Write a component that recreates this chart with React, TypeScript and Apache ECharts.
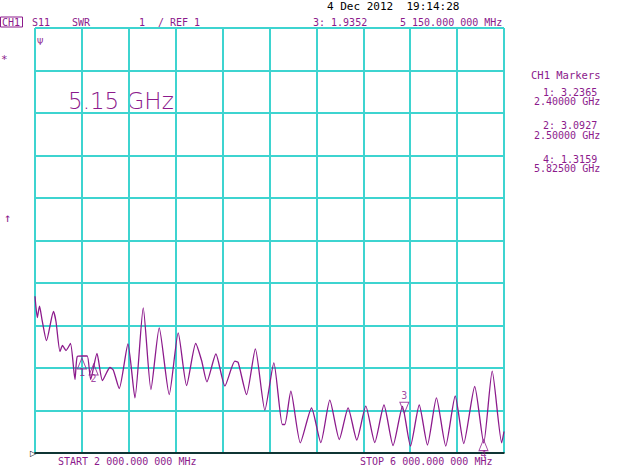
import React, { useEffect, useRef } from "react";
import * as echarts from "echarts";

// Trace: frequency (GHz) and SWR
const freqGHz = [
  2.0, 2.0196, 2.0384, 2.0597, 2.098, 2.1577, 2.179, 2.2131, 2.2344, 2.2642,
  2.3026, 2.3409, 2.3605, 2.4049, 2.4458, 2.4747, 2.5284, 2.5753, 2.6392, 2.6674,
  2.7185, 2.7927, 2.8523, 2.9231, 2.9887, 3.0594, 3.1447, 3.2214, 3.293, 3.3705,
  3.4208, 3.466, 3.5427, 3.6194, 3.7047, 3.7328, 3.8044, 3.8794, 3.9604, 4.0371,
  4.1095, 4.1308, 4.182, 4.2629, 4.3584, 4.4377, 4.5144, 4.5953, 4.6704, 4.7445,
  4.8212, 4.8979, 4.9763, 5.0539, 5.134, 5.2022, 5.2772, 5.3471, 5.4238, 5.5031,
  5.584, 5.6565, 5.7502, 5.8269, 5.8994, 5.9804, 6.0,
];
const swrValues = [
  4.689, 4.188, 4.454, 4.141, 3.647, 4.329, 4.094, 3.388, 3.529, 3.412,
  3.577, 2.729, 3.271, 3.282, 3.282, 2.729, 3.341, 2.706, 3.012, 2.953,
  2.518, 3.565, 2.299, 4.416, 2.494, 3.946, 2.376, 3.828, 2.588, 3.576,
  3.176, 2.675, 3.329, 2.576, 3.16, 3.129, 2.376, 3.452, 2.007, 3.122,
  1.671, 1.671, 2.454, 1.24, 2.059, 1.247, 2.242, 1.318, 2.064, 1.306,
  2.101, 1.247, 2.129, 1.176, 2.094, 1.165, 2.129, 1.188, 2.299, 1.165,
  2.341, 1.224, 2.565, 1.235, 2.925, 1.24, 1.506,
];

// Markers
const markerIds = ["1", "2", "3", "4"];
const markerFreq = [2.4, 2.5, 5.15, 5.825];
const markerSwr = [3.2365, 3.0927, 1.9352, 1.3159];
const markerAbove = [false, false, true, false];
const tableMarkers = [0, 1, 3];

// Axis settings
const freqStart = 2;
const freqStop = 6;
const freqStep = 0.4;
const swrMin = 1;
const swrMax = 11;
const swrStep = 1;

const CYAN = "#3ed4d0";
const PURPLE = "#8c1a8c";
const MONO = "'DejaVu Sans Mono', monospace";

export default function App() {
  const ref = useRef<HTMLDivElement>(null);

  useEffect(() => {
    document.body.style.margin = "0";
    const chart = echarts.init(ref.current!, null, { renderer: "svg" });

    const txt = (x: number, y: number, text: string, opts: any = {}) => ({
      type: "text",
      x,
      y,
      silent: true,
      style: {
        text,
        fill: opts.fill || PURPLE,
        font: opts.font || `10px ${MONO}`,
        textAlign: opts.align || "left",
        textVerticalAlign: "middle",
      },
    });

    const graphics: any[] = [
      { type: "rect", shape: { x: 0.5, y: 17, width: 22, height: 10 }, style: { fill: "none", stroke: PURPLE, lineWidth: 1 } },
      txt(2, 22, "CH1"),
      txt(32, 22, "S11"),
      txt(72, 22, "SWR"),
      txt(139, 22, "1"),
      txt(158, 22, "/ REF 1"),
      txt(313, 22, `3: ${markerSwr[2].toFixed(4)}`),
      txt(400, 22, "5 150.000 000 MHz"),
      txt(327, 6, "4 Dec 2012  19:14:28", { fill: "#000", font: `11px ${MONO}` }),
      txt(68, 101, "5.15 GHz", { font: `200 23px 'DejaVu Sans', sans-serif` }),
      txt(58, 461, "START 2 000.000 000 MHz"),
      txt(360, 461, "STOP 6 000.000 000 MHz"),
      txt(531, 75, "CH1 Markers", { font: `10.5px ${MONO}` }),
      txt(1, 59, "*", { font: `11px ${MONO}` }),
      txt(4, 218, "↑", { font: `12px ${MONO}` }),
      txt(37, 42, "Ψ", { font: `8px 'DejaVu Sans', sans-serif` }),
      txt(30, 453, "▷", { fill: "#000", font: `8px 'DejaVu Sans', sans-serif` }),
    ];
    tableMarkers.forEach((mi, k) => {
      const y0 = 92 + k * 33.5;
      graphics.push(txt(543, y0, `${markerIds[mi]}: ${markerSwr[mi].toFixed(4)}`));
      graphics.push(txt(534, y0 + 9.5, `${markerFreq[mi].toFixed(5)} GHz`));
    });

    const markerData = markerIds.map((id, i) => ({
      value: [markerFreq[i], markerSwr[i]],
      name: id,
      symbolRotate: markerAbove[i] ? 180 : 0,
      symbolOffset: markerAbove[i] ? [0, "-50%"] : [0, "50%"],
      label: {
        show: true,
        formatter: id,
        position: markerAbove[i] ? "top" : "bottom",
        distance: markerAbove[i] ? 1 : -2,
        color: PURPLE,
        fontSize: 10,
        fontFamily: MONO,
      },
    }));

    chart.setOption({
      animation: false,
      backgroundColor: "#fff",
      grid: { left: 35, right: 136, top: 28, bottom: 12 },
      xAxis: {
        type: "value",
        min: freqStart,
        max: freqStop,
        interval: freqStep,
        axisLabel: { show: false },
        axisTick: { show: false },
        axisLine: { show: true, lineStyle: { color: "#000", width: 1.5 } },
        splitLine: { show: true, lineStyle: { color: CYAN, width: 2 } },
      },
      yAxis: {
        type: "value",
        min: swrMin,
        max: swrMax,
        interval: swrStep,
        axisLabel: { show: false },
        axisTick: { show: false },
        axisLine: { show: false },
        splitLine: { show: true, lineStyle: { color: CYAN, width: 2 } },
      },
      series: [
        {
          type: "line",
          data: freqGHz.map((f, i) => [f, swrValues[i]]),
          showSymbol: false,
          smooth: 0.2,
          lineStyle: { color: PURPLE, width: 1.3 },
          z: 3,
        },
        {
          type: "scatter",
          data: markerData,
          symbol: "triangle",
          symbolSize: [9, 11],
          itemStyle: { color: "rgba(0,0,0,0)", borderColor: PURPLE, borderWidth: 1 },
          z: 4,
        },
      ],
      graphic: graphics,
    });
    return () => chart.dispose();
  }, []);

  return (
    <div
      ref={ref}
      style={{ position: "fixed", left: 0, top: 0, width: 640, height: 465 }}
    />
  );
}
